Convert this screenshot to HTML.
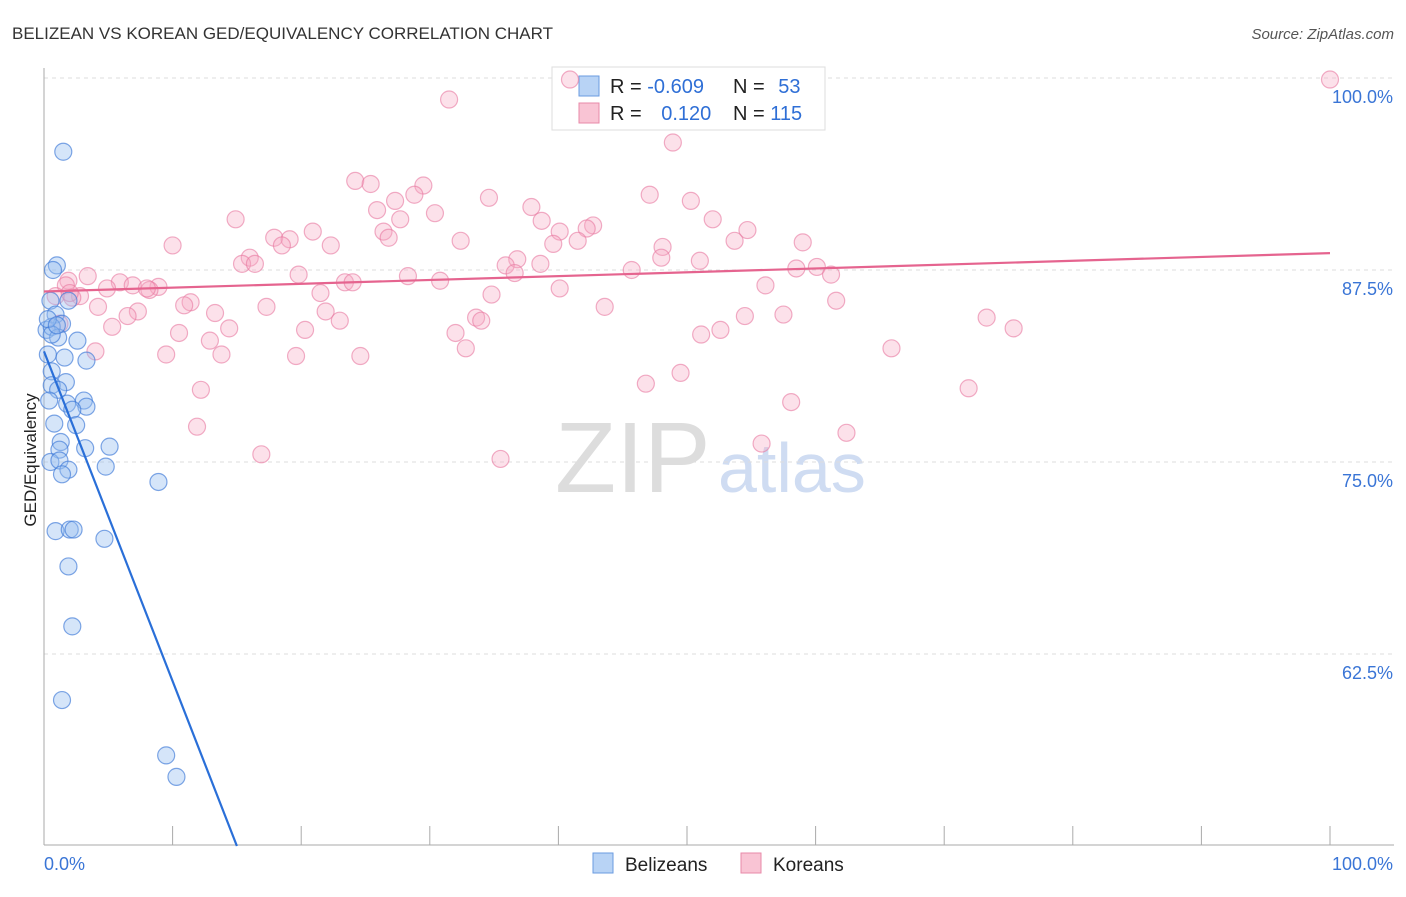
<!DOCTYPE html>
<html><head><meta charset="utf-8"><style>
body{margin:0;background:#fff;font-family:"Liberation Sans",sans-serif}
svg text{font-family:"Liberation Sans",sans-serif}
</style></head><body>
<svg id="chart" width="1406" height="892" xmlns="http://www.w3.org/2000/svg">
<text x="12" y="39" font-size="17" fill="#333">BELIZEAN VS KOREAN GED/EQUIVALENCY CORRELATION CHART</text>
<text x="1394" y="39" font-size="15" fill="#555" text-anchor="end" font-style="italic">Source: ZipAtlas.com</text>
<text x="36" y="460" font-size="17" fill="#222" transform="rotate(-90 36 460)" text-anchor="middle">GED/Equivalency</text>
<text x="555" y="492" font-size="100" fill="#ddd" font-family="Liberation Serif">ZIP</text>
<text x="718" y="492" font-size="70" fill="#cfdcf2">atlas</text>
<g id="grid"></g><g id="axes"></g>
<g>
<rect x="552" y="67" width="273" height="63" fill="#fff" stroke="#ddd"/>
<rect x="579" y="76" width="20" height="20" fill="#b8d3f5" stroke="#6a9be0"/>
<rect x="579" y="103" width="20" height="20" fill="#f9c4d4" stroke="#e88aa8"/>
<text x="610" y="93" font-size="20" fill="#222">R = <tspan fill="#2f6fd6">-0.609</tspan></text>
<text x="733" y="93" font-size="20" fill="#222">N = <tspan fill="#2f6fd6" dx="8">53</tspan></text>
<text x="610" y="120" font-size="20" fill="#222">R = <tspan fill="#2f6fd6" dx="14">0.120</tspan></text>
<text x="733" y="120" font-size="20" fill="#222">N = <tspan fill="#2f6fd6">115</tspan></text>
</g>
<g id="pts"></g><g id="trends"></g>
<g>
<rect x="593" y="853" width="20" height="20" fill="#b8d3f5" stroke="#6a9be0"/>
<text x="625" y="871" font-size="19" fill="#222">Belizeans</text>
<rect x="741" y="853" width="20" height="20" fill="#f9c4d4" stroke="#e88aa8"/>
<text x="773" y="871" font-size="19" fill="#222">Koreans</text>
</g>
</svg>
<script>
const yTicks=[100,87.5,75,62.5];
const yTickLabels=["100.0%","87.5%","75.0%","62.5%"];
const xTickCount=10;
const blueX=[1.5,1.0,0.7,0.5,1.9,0.9,1.4,0.2,0.6,1.1,2.6,0.3,1.6,3.3,0.6,1.7,0.6,1.1,0.4,1.8,3.1,3.3,2.2,0.8,2.5,1.3,1.2,3.2,5.1,0.5,1.2,1.9,1.4,4.8,8.9,0.9,2.0,2.3,4.7,1.9,2.2,1.4,9.5,10.3,0.6,0.3,1.0];
const blueY=[95.2,87.8,87.5,85.5,85.5,84.6,84.0,83.6,83.8,83.1,82.9,82.0,81.8,81.6,80.9,80.2,80.0,79.7,79.0,78.8,79.0,78.6,78.4,77.5,77.4,76.3,75.8,75.9,76.0,75.0,75.1,74.5,74.2,74.7,73.7,70.5,70.6,70.6,70.0,68.2,64.3,59.5,55.9,54.5,83.3,84.3,83.9];
const pinkX=[31.5,40.9,100,48.9,24.2,25.4,29.5,28.8,34.6,47.1,50.3,27.3,37.9,25.9,30.4,27.7,14.9,38.7,52.0,42.7,42.2,20.9,26.4,40.1,54.7,17.9,19.1,26.8,32.4,41.5,39.6,53.7,59.0,22.3,18.5,10.0,48.1,16.0,15.4,16.4,36.8,48.0,51.0,35.9,38.6,58.5,60.1,45.7,36.6,19.8,28.3,61.2,3.4,1.9,5.9,6.9,8.9,30.8,23.4,24.0,1.7,4.9,8.2,8.0,40.1,56.1,0.9,2.8,21.5,34.8,2.2,11.4,10.9,4.2,17.3,43.6,61.6,21.9,7.3,6.5,13.3,54.5,57.5,73.3,23.0,33.6,34.0,14.4,5.3,20.3,10.5,32.0,52.6,51.1,75.4,12.9,32.8,65.9,4.0,9.5,13.8,19.6,24.6,49.5,46.8,12.2,71.9,58.1,11.9,62.4,55.8,16.9,35.5,1.2,2.0];
const pinkY=[98.6,99.9,99.9,95.8,93.3,93.1,93.0,92.4,92.2,92.4,92.0,92.0,91.6,91.4,91.2,90.8,90.8,90.7,90.8,90.4,90.2,90.0,90.0,90.0,90.1,89.6,89.5,89.6,89.4,89.4,89.2,89.4,89.3,89.1,89.1,89.1,89.0,88.3,87.9,87.9,88.2,88.3,88.1,87.8,87.9,87.6,87.7,87.5,87.3,87.2,87.1,87.2,87.1,86.8,86.7,86.5,86.4,86.8,86.7,86.7,86.5,86.3,86.2,86.3,86.3,86.5,85.8,85.8,86.0,85.9,85.7,85.4,85.2,85.1,85.1,85.1,85.5,84.8,84.8,84.5,84.7,84.5,84.6,84.4,84.2,84.4,84.2,83.7,83.8,83.6,83.4,83.4,83.6,83.3,83.7,82.9,82.4,82.4,82.2,82.0,82.0,81.9,81.9,80.8,80.1,79.7,79.8,78.9,77.3,76.9,76.2,75.5,75.2,84.0,86.0];
const blueTrendX=[0,15.0];const blueTrendY=[82.2,50.0];
const pinkTrendX=[0,100];const pinkTrendY=[86.1,88.6];
const L=44,R=1330,T=78,B=845;
const sx=v=>L+(R-L)*v/100;
const sy=v=>T+(100-v)*15.36;
const NS="http://www.w3.org/2000/svg";
function mk(tag,attrs,parent){const e=document.createElementNS(NS,tag);for(const k in attrs)e.setAttribute(k,attrs[k]);document.getElementById(parent).appendChild(e);return e;}
yTicks.forEach((t,i)=>{
 const g=mk('line',{x1:L,x2:1394,y1:sy(t),y2:sy(t),stroke:'#ddd','stroke-dasharray':'4,4'},'grid');
 
 
 const tx=mk('text',{x:1393,y:sy(t)+25,'font-size':18,fill:'#3a75d6','text-anchor':'end'},'axes');
 tx.textContent=yTickLabels[i];
 
 
});
const ya=mk('line',{x1:L,x2:L,y1:68,y2:B,stroke:'#aaa'},'axes');


const xa=mk('line',{x1:L,x2:1394,y1:B,y2:B,stroke:'#aaa'},'axes');


for(let i=1;i<=xTickCount;i++){const tk=mk('line',{x1:sx(i*10),x2:sx(i*10),y1:826,y2:B,stroke:'#aaa'},'axes');
 
 }
const x0=mk('text',{x:44,y:870,'font-size':18,fill:'#3a75d6'},'axes');x0.textContent='0.0%';


const x1=mk('text',{x:1393,y:870,'font-size':18,fill:'#3a75d6','text-anchor':'end'},'axes');x1.textContent='100.0%';


pinkX.forEach((x,i)=>{const c=mk('circle',{cx:sx(x),cy:sy(pinkY[i]),r:8.5,fill:'rgba(246,170,195,0.35)',stroke:'rgba(232,120,160,0.6)','stroke-width':1.2},'pts');
 
 });
blueX.forEach((x,i)=>{const c=mk('circle',{cx:sx(x),cy:sy(blueY[i]),r:8.5,fill:'rgba(150,190,240,0.4)',stroke:'rgba(60,120,215,0.65)','stroke-width':1.2},'pts');
 
 });
const bt=mk('line',{x1:sx(blueTrendX[0]),y1:sy(blueTrendY[0]),x2:sx(blueTrendX[1]),y2:sy(blueTrendY[1]),stroke:'#2a6fd8','stroke-width':2.2},'trends');


const pt=mk('line',{x1:sx(pinkTrendX[0]),y1:sy(pinkTrendY[0]),x2:sx(pinkTrendX[1]),y2:sy(pinkTrendY[1]),stroke:'#e5648f','stroke-width':2.2},'trends');


</script>
</body></html>
